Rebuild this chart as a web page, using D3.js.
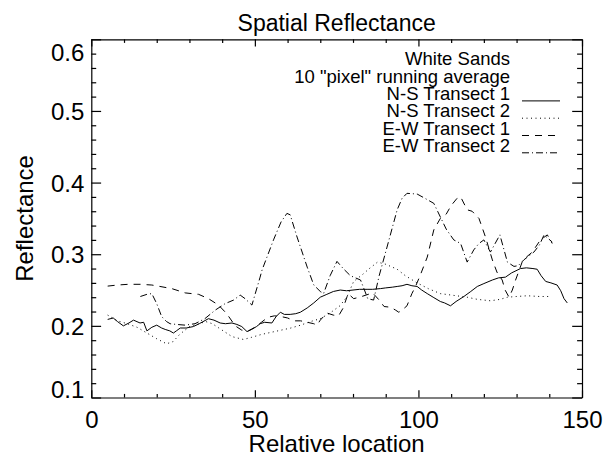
<!DOCTYPE html>
<html>
<head>
<meta charset="utf-8">
<script src="https://cdn.jsdelivr.net/npm/d3@7"></script>
<style>
  body { margin: 0; background: #fff; }
  svg { display: block; }
  text { font-family: "Liberation Sans", Arial, Helvetica, sans-serif; fill: #000; }
  .axis path, .axis line { stroke: #000; stroke-width: 1.2; }
  .series { fill: none; stroke: #000; stroke-width: 1; }
</style>
</head>
<body>
<div id="chart"></div>
<script>
// tick values
var xMajor = [0, 50, 100, 150];
var xMinor = [10, 20, 30, 40, 60, 70, 80, 90, 110, 120, 130, 140];
var yMajor = [0.1, 0.2, 0.3, 0.4, 0.5, 0.6];
var yMinor = [0.12, 0.14, 0.16, 0.18, 0.22, 0.24, 0.26, 0.28, 0.32, 0.34, 0.36, 0.38,
              0.42, 0.44, 0.46, 0.48, 0.52, 0.54, 0.56, 0.58];

var legendHead = ["White Sands", "10 \"pixel\" running average"];
var seriesNames = ["N-S Transect 1", "N-S Transect 2", "E-W Transect 1", "E-W Transect 2"];

// N-S Transect 1 (solid)
var ns1X = [5, 6.7, 8, 9.8, 11.5, 12.9, 14.9, 16, 17, 18.5, 20, 21.5, 22.6, 24, 25.1, 26, 27.2, 29, 31.2, 33,
            35.8, 37.5, 39.4, 41, 43, 44.5, 46, 47.6, 49, 50.5, 51.6, 53, 55.2, 56.5, 57.8, 59, 60.8, 62.5, 63.9, 66,
            68, 70, 72, 74, 76.1, 78, 80, 82, 84.3, 86, 88.4, 90, 92, 93.5, 95, 96.5, 98, 99.6, 101, 102.7,
            104.5, 106.7, 108, 109.8, 111.5, 113.9, 116, 118, 120, 122.6, 124.5, 126.6, 128.5, 131.2, 133, 135, 136.3, 137.5, 138.9, 140.5,
            142.4, 143.5, 144.5, 145.5];
var ns1Y = [0.209, 0.211, 0.206, 0.200, 0.204, 0.208, 0.204, 0.205, 0.193, 0.198, 0.201, 0.197, 0.195, 0.193, 0.190, 0.193, 0.197, 0.197, 0.199, 0.203,
            0.210, 0.208, 0.204, 0.203, 0.204, 0.202, 0.199, 0.192, 0.195, 0.199, 0.203, 0.205, 0.204, 0.213, 0.219, 0.216, 0.216, 0.217, 0.219, 0.225,
            0.232, 0.240, 0.244, 0.248, 0.250, 0.249, 0.250, 0.251, 0.251, 0.251, 0.252, 0.253, 0.254, 0.255, 0.256, 0.258, 0.256, 0.255, 0.250, 0.245,
            0.240, 0.234, 0.232, 0.228, 0.234, 0.241, 0.248, 0.255, 0.259, 0.264, 0.267, 0.268, 0.274, 0.280, 0.281, 0.280, 0.279, 0.270, 0.262, 0.260,
            0.257, 0.249, 0.238, 0.232];

// N-S Transect 2 (dotted)
var ns2X = [5, 8, 11, 14, 17, 20, 23, 25, 27, 30, 33, 35, 37, 39, 41, 43, 46.5, 49, 52, 55,
            58, 61, 64, 67, 70, 73, 76, 78.2, 80.2, 83, 85, 87.5, 90, 93.5, 96, 99.6, 103, 106.7, 110, 114.9,
            118, 122, 125, 127.2, 130, 133.3, 137, 140.4];
var ns2Y = [0.215, 0.207, 0.203, 0.198, 0.190, 0.182, 0.175, 0.178, 0.188, 0.199, 0.203, 0.206, 0.203, 0.197, 0.191, 0.185, 0.181, 0.184, 0.188, 0.191,
            0.194, 0.197, 0.201, 0.206, 0.210, 0.218, 0.228, 0.241, 0.262, 0.272, 0.280, 0.289, 0.286, 0.279, 0.270, 0.260, 0.252, 0.245, 0.243, 0.240,
            0.237, 0.235, 0.237, 0.240, 0.241, 0.242, 0.241, 0.241];

// E-W Transect 1 (dashed)
var ew1X = [5, 8, 11.3, 15, 18.5, 21, 24.6, 28.7, 32.8, 35.8, 38.9, 41.4, 44, 46, 48, 50, 52, 54, 56, 58,
            60, 62, 64, 66, 68, 69, 70, 72, 74, 75.6, 77, 78.5, 80.2, 82, 84, 86, 88, 89.5, 91.5, 93,
            94, 95, 96.5, 98, 99.1, 100.5, 102.7, 104.7, 106.7, 108.5, 110, 111.8, 112.9, 114.9, 116.4, 118.5, 120.5, 122.6, 124, 125.6,
            126.5, 127.7, 128.7, 129.7, 131.7, 133, 134.8, 137.3, 139.4, 140.9];
var ew1Y = [0.2555, 0.257, 0.258, 0.258, 0.257, 0.255, 0.252, 0.246, 0.244, 0.238, 0.229, 0.217, 0.200, 0.194, 0.193, 0.198, 0.205, 0.212, 0.214, 0.213,
            0.211, 0.207, 0.207, 0.205, 0.203, 0.201, 0.208, 0.218, 0.215, 0.214, 0.225, 0.245, 0.238, 0.240, 0.243, 0.246, 0.236, 0.227, 0.226, 0.222,
            0.219, 0.222, 0.228, 0.245, 0.255, 0.270, 0.296, 0.334, 0.350, 0.356, 0.368, 0.378, 0.380, 0.362, 0.360, 0.350, 0.324, 0.292, 0.275, 0.264,
            0.250, 0.240, 0.250, 0.264, 0.289, 0.296, 0.303, 0.320, 0.327, 0.315];

// E-W Transect 2 (dash-dot)
var ew2X = [15, 17, 18.5, 20, 21.5, 23, 24.1, 26, 28.7, 31.7, 34.7, 37.9, 40.9, 43.5, 45.5, 47, 49.1, 51.6, 52.2, 55.7,
            58, 59.8, 60.8, 62.9, 66, 68, 70, 71, 73, 75.1, 77, 79.2, 82.3, 83.5, 84.5, 86.3, 88, 90.4, 93.5, 95,
            96.5, 99.6, 102, 104.7, 106.7, 108.5, 110.8, 112.9, 114.9, 116.9, 118.5, 120, 122, 124.9, 127.2, 129.2, 130.5, 132.2, 135.3, 137,
            138.4, 140.9];
var ew2Y = [0.241, 0.244, 0.245, 0.231, 0.213, 0.206, 0.203, 0.202, 0.201, 0.203, 0.210, 0.222, 0.231, 0.236, 0.243, 0.238, 0.229, 0.268, 0.278, 0.320,
            0.345, 0.357, 0.355, 0.324, 0.282, 0.257, 0.248, 0.245, 0.270, 0.290, 0.280, 0.270, 0.264, 0.250, 0.238, 0.236, 0.270, 0.310, 0.362, 0.378,
            0.385, 0.384, 0.378, 0.371, 0.352, 0.335, 0.320, 0.315, 0.289, 0.306, 0.315, 0.320, 0.303, 0.327, 0.289, 0.283, 0.284, 0.292, 0.303, 0.313,
            0.327, 0.317];

var W = 606, H = 457;
var plotLeft = 91.3, plotRight = 582, plotTop = 39.3, plotBottom = 397.5;

var svg = d3.select("#chart").append("svg").attr("width", W).attr("height", H);

var x = d3.scaleLinear().domain([0, 150]).range([plotLeft, plotRight]);
var y = d3.scaleLinear().domain([0.1, 0.6]).range([plotBottom, plotTop]);

var xTickLen = 0.02 * (plotBottom - plotTop);
var yTickLen = 0.02 * (plotRight - plotLeft);

// bottom axis
var gb = svg.append("g").attr("class", "axis").attr("transform", "translate(0," + plotBottom + ")");
gb.call(d3.axisBottom(x).tickValues(xMajor).tickSizeInner(-xTickLen).tickSizeOuter(0).tickPadding(13.5).tickFormat(d3.format("d")));
gb.append("g").call(d3.axisBottom(x).tickValues(xMinor).tickSizeInner(-xTickLen / 2).tickSizeOuter(0).tickFormat(""))
  .select(".domain").remove();
// top axis
var gt = svg.append("g").attr("class", "axis").attr("transform", "translate(0," + plotTop + ")");
gt.call(d3.axisTop(x).tickValues(xMajor).tickSizeInner(-xTickLen).tickSizeOuter(0).tickFormat(""));
gt.append("g").call(d3.axisTop(x).tickValues(xMinor).tickSizeInner(-xTickLen / 2).tickSizeOuter(0).tickFormat(""))
  .select(".domain").remove();
// left axis
var gl = svg.append("g").attr("class", "axis").attr("transform", "translate(" + plotLeft + ",0)");
gl.call(d3.axisLeft(y).tickValues(yMajor).tickSizeInner(-yTickLen).tickSizeOuter(0).tickPadding(7).tickFormat(d3.format(".1f")));
gl.append("g").call(d3.axisLeft(y).tickValues(yMinor).tickSizeInner(-yTickLen / 2).tickSizeOuter(0).tickFormat(""))
  .select(".domain").remove();
// right axis
var gr = svg.append("g").attr("class", "axis").attr("transform", "translate(" + plotRight + ",0)");
gr.call(d3.axisRight(y).tickValues(yMajor).tickSizeInner(-yTickLen).tickSizeOuter(0).tickFormat(""));
gr.append("g").call(d3.axisRight(y).tickValues(yMinor).tickSizeInner(-yTickLen / 2).tickSizeOuter(0).tickFormat(""))
  .select(".domain").remove();

svg.selectAll(".axis text").attr("font-size", 24).attr("font-family", null);
// end labels on the y axis sit inside the frame
gl.selectAll(".tick text").attr("dy", function(d) {
  if (d === 0.6) return "0.9em";
  if (d === 0.1) return "0em";
  return "0.36em";
});

// titles
svg.append("text").attr("x", (plotLeft + plotRight) / 2).attr("y", 31).attr("text-anchor", "middle")
  .attr("font-size", 23).text("Spatial Reflectance");
svg.append("text").attr("x", (plotLeft + plotRight) / 2).attr("y", 452).attr("text-anchor", "middle")
  .attr("font-size", 24).text("Relative location");
svg.append("text").attr("transform", "translate(33," + (plotTop + plotBottom) / 2 + ") rotate(-90)")
  .attr("text-anchor", "middle").attr("font-size", 24).text("Reflectance");

// series
var dashes = ["none", "1 3.5", "7 6", "7 3 1 3"];
var series = [
  { name: seriesNames[0], xs: ns1X, ys: ns1Y },
  { name: seriesNames[1], xs: ns2X, ys: ns2Y },
  { name: seriesNames[2], xs: ew1X, ys: ew1Y },
  { name: seriesNames[3], xs: ew2X, ys: ew2Y }
];
var line = d3.line().x(function(d) { return x(d[0]); }).y(function(d) { return y(d[1]); });

series.forEach(function(s, i) {
  svg.append("path")
    .datum(d3.zip(s.xs, s.ys))
    .attr("class", "series")
    .attr("stroke-dasharray", dashes[i])
    .attr("d", line);
});

// legend
var lg = svg.append("g").attr("class", "legend");
var rowY = 65.3, rowH = 17.3, textRight = 510;
legendHead.forEach(function(t, i) {
  lg.append("text").attr("x", textRight).attr("y", rowY + i * rowH).attr("text-anchor", "end")
    .attr("font-size", 18.5).text(t);
});
seriesNames.forEach(function(t, i) {
  var yy = rowY + (i + 2) * rowH;
  lg.append("text").attr("x", textRight).attr("y", yy).attr("text-anchor", "end")
    .attr("font-size", 18.5).text(t);
  lg.append("line").attr("x1", 522).attr("x2", 560).attr("y1", yy + 1).attr("y2", yy + 1)
    .attr("class", "series").attr("stroke-dasharray", dashes[i]);
});
</script>
</body>
</html>
